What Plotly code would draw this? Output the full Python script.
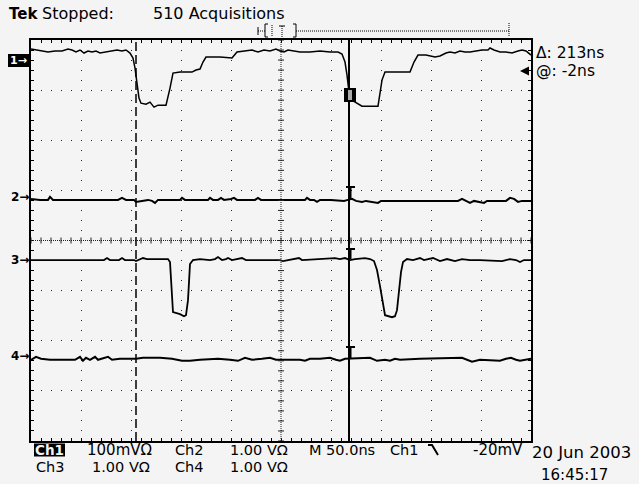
import plotly.graph_objects as go

# screen capture of a Tek scope: 50 ns/div, trigger at t = 0
# times in ns, Ch1 in mV, Ch2..Ch4 in V

ch1_t = [-320, -315, -311, -303, -296, -289, -283, -279, -275, -271, -267, -263, -259, -255,
         -251, -245, -239, -234, -229, -225, -221, -218, -216, -214, -212, -210, -205, -201,
         -197, -193, -185, -181, -178, -171, -159, -155, -151, -148, -145, -131, -119, -114,
         -106, -99, -93, -87, -81, -75, -71, -67, -63, -57, -51, -41, -31, -21, -13, -9, -6,
         -4, -2, 1, 6, 11, 27, 29, 31, 34, 59, 63, 67, 75, 79, 84, 89, 95, 99, 104, 109, 114,
         119, 125, 131, 137, 139, 143, 149, 155, 161, 167, 171, 175, 180]
ch1_mv = [22, 20, 18, 16, 18, 18, 22, 20, 16, 20, 14, 18, 16, 18,
          14, 16, 18, 20, 18, 20, 14, 4, -16, -50, -76, -86, -88, -84,
          -94, -90, -90, -56, -26, -24, -24, -20, -18, -4, 6, 6, 4, 16,
          18, 20, 16, 20, 18, 22, 18, 16, 20, 18, 16, 16, 18, 16, 16, 12, -4,
          -30, -64, -80, -86, -92, -92, -70, -40, -24, -24, -4, 10, 10, 8, 6, 8, 14, 16, 14, 18, 16,
          16, 18, 20, 20, 24, 20, 16, 16, 14, 18, 20, 18, 10]

ch2_t = [-320, -311, -303, -301, -298, -233, -229, -225, -217, -215, -209, -203, -199, -196,
         -193, -171, -169, -166, -143, -141, -138, -133, -130, -127, -120, -117, -114, -96,
         -93, -90, -46, -44, -41, -37, -34, -31, -20, -7, -3, 1, 5, 11, 15, 24, 27, 30, 49,
         107, 111, 115, 119, 123, 129, 133, 136, 155, 159, 163, 167, 171, 180]
ch2_v = [-0.04, -0.06, -0.06, 0.0, -0.06, -0.06, -0.02, -0.06, -0.06, -0.10, -0.08, -0.06, -0.08, -0.12,
         -0.06, -0.06, -0.02, -0.06, -0.06, -0.02, -0.06, -0.06, -0.02, -0.06, -0.04, -0.02, -0.06, -0.06,
         -0.02, -0.06, -0.06, -0.02, -0.06, -0.06, -0.10, -0.06, -0.06, -0.08, -0.06, -0.04, -0.08, -0.10, -0.08, -0.10, -0.12, -0.08, -0.08,
         -0.08, -0.04, -0.08, -0.12, -0.08, -0.10, -0.12, -0.08, -0.08, -0.02, -0.04, -0.10, -0.08, -0.08]

ch3_t = [-320, -291, -247, -244, -241, -232, -229, -226, -217, -215, -211, -208, -204, -183,
         -181, -180, -179, -178, -171, -167, -165, -163, -162, -161, -158, -151, -141, -136,
         -133, -129, -125, -123, -119, -113, -109, -105, -71, -68, -61, -55, -52, -49, -31,
         -24, -16, -11, -6, -1, 4, 14, 19, 23, 26, 29, 32, 34, 41, 44, 46, 48, 50, 52, 56,
         62, 69, 73, 82, 89, 96, 104, 111, 119, 129, 151, 159, 165, 169, 173, 180]
ch3_v = [0, 0, 0, 0.04, 0, 0, 0.04, 0, 0, -0.02, 0.02, 0.04, 0.02, 0.02,
         -0.04, -0.40, -0.80, -1.04, -1.08, -1.12, -1.10, -0.80, -0.44, -0.08, 0, 0.02, 0, 0.02,
         0.06, 0, 0.02, 0.04, 0, 0.02, 0.04, 0, 0, -0.02, 0, 0.02, 0.04, 0, 0.02,
         0.04, 0.04, 0.02, 0.04, 0, 0.02, 0.04, 0.02, -0.02, -0.20, -0.52, -0.90, -1.10, -1.14, -1.12, -1.00, -0.60, -0.24, -0.04, 0.02,
         0, 0.04, 0, 0.04, -0.02, 0.02, -0.02, 0.02, 0, 0, -0.02, 0.02, 0, -0.04, 0, 0]

ch4_t = [-320, -315, -310, -301, -276, -271, -268, -265, -261, -256, -253, -247, -243, -239,
         -231, -215, -208, -191, -179, -169, -161, -151, -133, -121, -113, -106, -99, -89,
         -81, -75, -51, -46, -41, -31, -21, -15, -11, -6, 9, 19, 26, 34, 39, 44, 49, 69,
         111, 116, 121, 129, 149, 155, 160, 165, 169, 180]
ch4_v = [-0.08, -0.02, -0.06, -0.08, -0.08, -0.02, -0.10, -0.04, -0.08, -0.02, -0.08, -0.04, -0.02, -0.08,
         -0.06, -0.06, -0.04, -0.04, -0.06, -0.10, -0.10, -0.08, -0.06, -0.08, -0.10, -0.04, -0.08, -0.06,
         -0.04, -0.08, -0.08, -0.10, -0.06, -0.06, -0.04, -0.08, -0.10, -0.06, -0.04, -0.04, -0.10, -0.08, -0.10, -0.06, -0.08, -0.06,
         -0.04, -0.08, -0.12, -0.08, -0.10, -0.06, -0.04, -0.08, -0.10, -0.06]

ch_scale = [100, 1, 1, 1]           # per division
ch_pos = [3.6, 0.87, -0.39, -2.3]   # ground markers, divisions from centre
cursor_a = -215
cursor_b = -2

BG = "#f4f4f4"
FONT = "DejaVu Sans"
L, R, T, B = 31, 531, 40, 441
ROW1, ROW2 = 450, 467   # readout rows under the screen


def px(x):
    return (x - L) / (R - L)


def py(y):
    return (B - y) / (B - T)


def label(text, x, y, size=14.5, anchor="center", color="black", bg=None):
    return dict(text=text, x=px(x), y=py(y), xref="paper", yref="paper",
                xanchor=anchor, yanchor="middle", showarrow=False, borderpad=0,
                font=dict(family=FONT, size=size, color=color), bgcolor=bg)


def pline(x0, y0, x1, y1, w=1, dash="solid"):
    return dict(type="line", xref="paper", yref="paper", x0=px(x0), y0=py(y0),
                x1=px(x1), y1=py(y1), line=dict(color="black", width=w, dash=dash))


def prect(x0, y0, x1, y1, color):
    return dict(type="rect", xref="paper", yref="paper", x0=px(x0), x1=px(x1),
                y0=py(y1), y1=py(y0), fillcolor=color, line=dict(width=0))


fig = go.Figure()
traces = [(ch1_t, ch1_mv, 1.5), (ch2_t, ch2_v, 2), (ch3_t, ch3_v, 1.8), (ch4_t, ch4_v, 2)]
for i, (t, v, w) in enumerate(traces):
    fig.add_trace(go.Scatter(x=t, y=v, mode="lines", yaxis="y%d" % (i + 2),
                             line=dict(color="black", width=w), hoverinfo="skip"))

shapes = []
# centre crosshair, finer dots plus cross ticks
shapes.append(dict(type="line", xref="x", yref="y", x0=-70, x1=-70, y0=-4, y1=4,
                   line=dict(color="#222", width=1, dash="1px,1px")))
shapes.append(dict(type="line", xref="x", yref="y", x0=-320, x1=180, y0=0, y1=0,
                   line=dict(color="#222", width=1, dash="1px,1px")))
for t in range(-320, 181, 10):
    shapes.append(dict(type="line", xref="x", yref="y", x0=t, x1=t, y0=-0.06, y1=0.06,
                       line=dict(color="#222", width=1)))
for k in range(41):
    yv = -4 + 0.2 * k
    shapes.append(dict(type="line", xref="x", yref="y", x0=-73, x1=-67, y0=yv, y1=yv,
                       line=dict(color="#222", width=1)))

# cursors
shapes.append(dict(type="line", xref="x", yref="paper", x0=cursor_a, x1=cursor_a, y0=0, y1=1,
                   line=dict(color="black", width=1.5, dash="9px,4px")))
shapes.append(dict(type="line", xref="x", yref="paper", x0=cursor_b, x1=cursor_b, y0=0, y1=1,
                   line=dict(color="black", width=2)))

# cursor bars on ch2..ch4
for top, bot in [(187, 199), (249, 259), (347, 359)]:
    shapes.append(pline(350, top, 350, bot, w=3))
    shapes.append(pline(346, top, 355, top, w=2))

# trigger marker on ch1
shapes.append(prect(344, 88, 356, 102, "black"))
shapes.append(prect(348, 90, 352, 100, "#aaa"))

# record bar at top
shapes += [
    pline(258, 27, 258, 35),
    pline(258, 31, 265, 31, dash="1px,1px"),
    pline(268, 24, 265, 24), pline(265, 24, 265, 37), pline(265, 37, 268, 37),
    pline(272, 25, 272, 37, dash="1px,1px"),
    pline(279, 26, 285, 26), pline(282, 26, 282, 37, dash="1px,1px"),
    pline(293, 24, 296, 24), pline(296, 24, 296, 37), pline(296, 37, 293, 37),
    pline(296, 31, 509, 31, dash="1px,1px"),
    pline(509, 23, 509, 37, dash="1px,1px"),
]

# highlight boxes behind "1" marker and "Ch1" readout
shapes.append(prect(8, 54, 29, 67, "black"))
shapes.append(prect(34, ROW1 - 6.5, 65, ROW1 + 6.5, "black"))

# falling edge symbol in the trigger readout
shapes.append(dict(type="path", xref="paper", yref="paper",
                   path="M %f,%f L %f,%f L %f,%f" % (px(428), py(ROW1 - 5), px(432), py(ROW1 - 5),
                                                     px(438), py(ROW1 + 5)),
                   line=dict(color="black", width=2)))

ann = [
    label("<b>Tek</b>", 23.5, 13.5, size=15),
    label("Stopped:", 77.5, 13.5, size=16),
    label("510 Acquisitions", 219, 13.5, size=16),
    label("Δ: 213ns", 535, 53, size=15.5, anchor="left"),
    label("@: -2ns", 535, 71, size=15.5, anchor="left"),
    label("<b>1→</b>", 18.5, 60.5, size=11, color="white"),
    label("<b>2→</b>", 20, 197, size=12),
    label("<b>3→</b>", 20, 260, size=12),
    label("<b>4→</b>", 20, 356, size=12),
    label("<b>Ch1</b>", 49.5, ROW1, size=13.5, color=BG),
    label("100mVΩ", 119, ROW1, size=15),
    label("Ch2", 189, ROW1),
    label("1.00 VΩ", 258.5, ROW1),
    label("M 50.0ns", 342, ROW1),
    label("Ch1", 404.5, ROW1),
    label("-20mV", 497.5, ROW1, size=15),
    label("20 Jun 2003", 581.5, 452, size=16.5),
    label("Ch3", 50, ROW2),
    label("1.00 VΩ", 121, ROW2),
    label("Ch4", 189, ROW2),
    label("1.00 VΩ", 258.5, ROW2),
    label("16:45:17", 574.5, 474.5, size=15),
]
# trigger level arrow at right edge
ann.append(dict(text="", x=px(520), y=py(71), xref="paper", yref="paper", showarrow=True,
                ax=10, ay=0, arrowhead=2, arrowsize=0.9, arrowwidth=2, arrowcolor="black"))

axis_common = dict(showticklabels=False, showgrid=True, gridcolor="#222", gridwidth=1,
                   griddash="1px,9px", ticks="inside", ticklen=3, tickcolor="black",
                   showline=True, linecolor="black", linewidth=2, mirror="allticks",
                   zeroline=False, fixedrange=True)

layout = dict(
    width=639, height=484,
    margin=dict(l=L, r=639 - R, t=T, b=484 - B),
    paper_bgcolor=BG, plot_bgcolor=BG, showlegend=False,
    xaxis=dict(range=[-320, 180], tick0=-320, dtick=50,
               minor=dict(tick0=-320, dtick=10, ticks="inside", ticklen=3, tickcolor="black", showgrid=False),
               **axis_common),
    yaxis=dict(range=[-4, 4], tick0=-4, dtick=1,
               minor=dict(tick0=-4, dtick=0.2, ticks="inside", ticklen=3, tickcolor="black", showgrid=False),
               **axis_common),
    shapes=shapes, annotations=ann,
)
for i in range(4):
    lo = (-4 - ch_pos[i]) * ch_scale[i]
    hi = (4 - ch_pos[i]) * ch_scale[i]
    layout["yaxis%d" % (i + 2)] = dict(overlaying="y", range=[lo, hi], visible=False, fixedrange=True)

fig.update_layout(**layout)
# page sits flush at the top-left corner like the scope screen
fig.write_html("out.html", config={"displayModeBar": False},
               post_script="document.body.style.margin='0';document.body.style.background='%s';" % BG)
